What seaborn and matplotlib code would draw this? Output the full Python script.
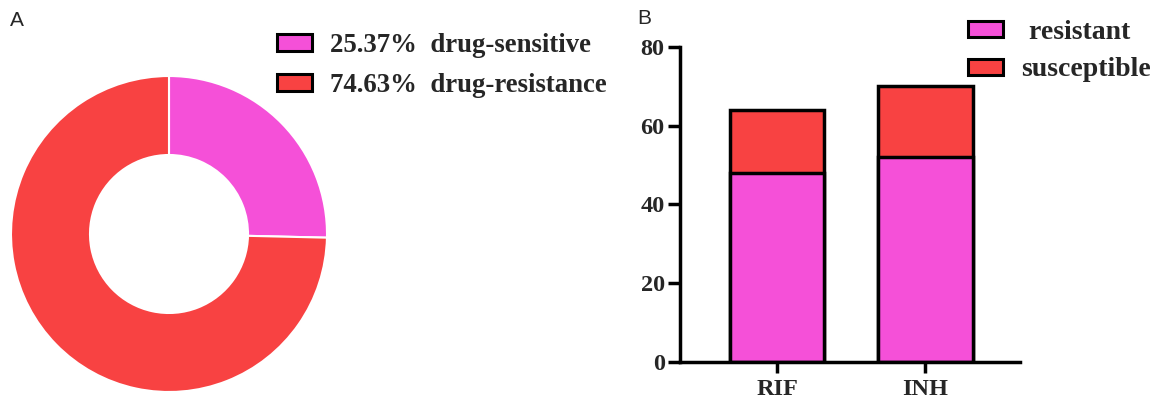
import matplotlib
matplotlib.use("Agg")
import matplotlib.pyplot as plt
import seaborn as sns
import pandas as pd
from matplotlib.patches import Patch

# data
pie_labels = ["25.37%  drug-sensitive", "74.63%  drug-resistance"]
pie_values = [25.37, 74.63]
drugs = ["RIF", "INH"]
resistant = [48, 52]
susceptible = [16, 18]

pink = "#F550D8"
red = "#F84242"

sns.set_style("white")
plt.rcParams['font.family'] = ['Liberation Serif', 'DejaVu Serif']

fig = plt.figure(figsize=(11.58, 4.09), dpi=100)
W, H = 1158, 409

# --- panel A: donut
ax1 = fig.add_axes([11 / W, (H - 392) / H, 316 / W, 316 / H])
ax1.pie(pie_values, colors=[pink, red], startangle=90, counterclock=False,
        radius=1.0, wedgeprops=dict(width=0.5, edgecolor="white", linewidth=1.5))
ax1.set_aspect("equal")
ax1.set_xlim(-1, 1)
ax1.set_ylim(-1, 1)

handles = [Patch(facecolor=c, edgecolor="black", linewidth=2.2) for c in [pink, red]]
fig.legend(handles, pie_labels, loc="upper left", bbox_to_anchor=(277 / W, 1 - 33 / H),
           frameon=False, prop=dict(weight="bold", size=19.3), handlelength=1.3,
           handleheight=0.55, labelspacing=0.56, handletextpad=0.67,
           borderpad=0, borderaxespad=0)

fig.text(10 / W, 1 - 21 / H, "A", fontsize=15, family="Liberation Sans", va="center")
fig.text(637 / W, 1 - 18 / H, "B", fontsize=15, family="Liberation Sans", va="center")

# --- panel B: stacked bars
df = pd.DataFrame({"drug": drugs, "resistant": resistant,
                   "total": [r + s for r, s in zip(resistant, susceptible)]})
ax2 = fig.add_axes([680 / W, (H - 362) / H, 340 / W, 315 / H])
sns.barplot(data=df, x="drug", y="total", color=red, edgecolor="black",
            linewidth=2.5, width=0.64, saturation=1, ax=ax2)
sns.barplot(data=df, x="drug", y="resistant", color=pink, edgecolor="black",
            linewidth=2.5, width=0.64, saturation=1, ax=ax2)
ax2.set_xlim(-0.655, 1.64)
ax2.set_ylim(0, 80)
ax2.set_yticks([0, 20, 40, 60, 80])
ax2.set_xlabel("")
ax2.set_ylabel("")
for s in ["top", "right"]:
    ax2.spines[s].set_visible(False)
for s in ["left", "bottom"]:
    ax2.spines[s].set_linewidth(2.5)
    ax2.spines[s].set_color("black")
ax2.spines["left"].set_bounds(0, 80)
ax2.tick_params(axis="y", length=9, width=2.5, color="black", labelsize=17.5, pad=2, left=True)
ax2.tick_params(axis="x", length=8, width=2.5, color="black", labelsize=17.5, pad=4, bottom=True)
for lab in ax2.get_xticklabels() + ax2.get_yticklabels():
    lab.set_fontweight("bold")

handles2 = [Patch(facecolor=c, edgecolor="black", linewidth=2.2) for c in [pink, red]]
fig.legend(handles2, [" resistant", "susceptible"], loc="upper left",
           bbox_to_anchor=(968 / W, 1 - 20 / H), frameon=False,
           prop=dict(weight="bold", size=20), handlelength=1.25, handleheight=0.5,
           labelspacing=0.45, handletextpad=0.68, borderpad=0, borderaxespad=0)

fig.savefig("out.png", dpi=100)
